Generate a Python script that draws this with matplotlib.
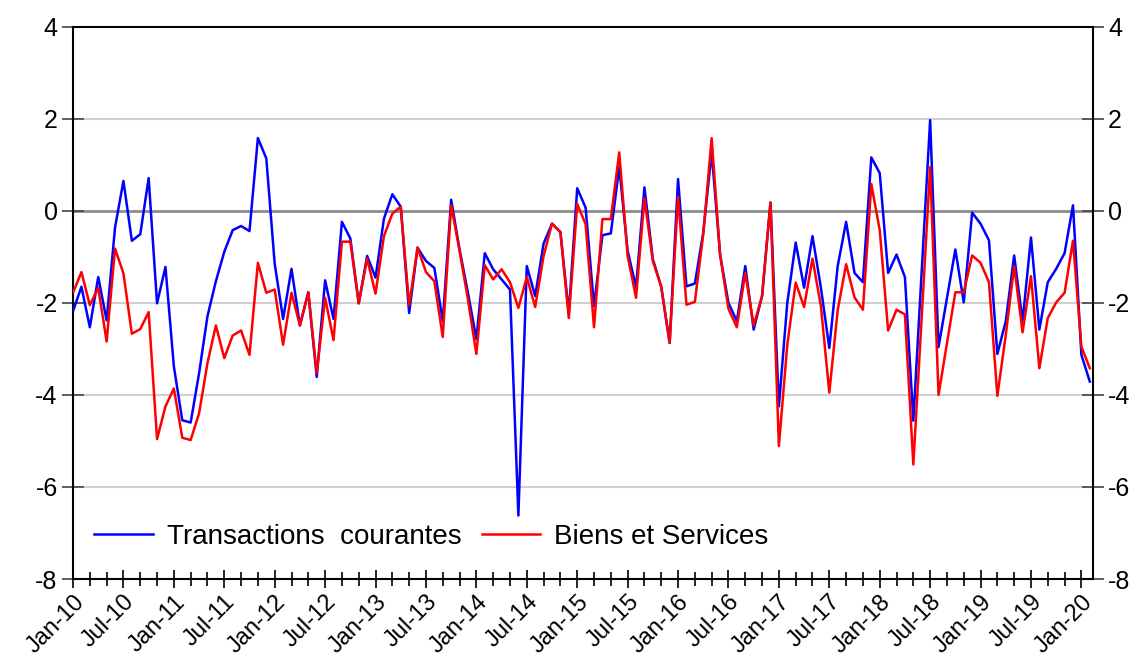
'''
Monthly current account vs goods and services balance, Jan-10 to Feb-20
'''

import pandas as pd
import matplotlib
matplotlib.use('Agg')
import matplotlib.pyplot as plt
from matplotlib.ticker import MultipleLocator, FixedLocator

plt.rcParams['font.family'] = ['Liberation Sans', 'DejaVu Sans']
plt.rcParams['axes.unicode_minus'] = False

months = pd.date_range('2010-01-01', periods=122, freq='MS')

transactions_courantes = [
    -2.18, -1.65, -2.53, -1.44, -2.38, -0.36,  0.65, -0.65, -0.51,  0.71,
    -2.01, -1.22, -3.38, -4.55, -4.60, -3.53, -2.29, -1.53, -0.89, -0.42,
    -0.33, -0.44,  1.58,  1.14, -1.15, -2.35, -1.26, -2.49, -1.77, -3.61,
    -1.51, -2.35, -0.24, -0.60, -2.01, -0.98, -1.45, -0.17,  0.36,  0.09,
    -2.22, -0.80, -1.09, -1.24, -2.40,  0.24, -0.84, -1.78, -2.79, -0.92,
    -1.27, -1.49, -1.71, -6.62, -1.20, -1.85, -0.71, -0.28, -0.46, -2.22,
     0.49,  0.07, -2.07, -0.53, -0.49,  0.95, -0.87, -1.66,  0.51, -1.05,
    -1.65, -2.87,  0.69, -1.64, -1.58, -0.47,  1.27, -0.95, -2.00, -2.40,
    -1.20, -2.58, -1.85,  0.18, -4.25, -2.00, -0.69, -1.67, -0.55, -1.67,
    -2.98, -1.20, -0.24, -1.35, -1.55,  1.16,  0.82, -1.35, -0.95, -1.44,
    -4.56, -1.30,  1.97, -2.96, -1.90, -0.84, -1.99, -0.04, -0.28, -0.64,
    -3.11, -2.40, -0.97, -2.40, -0.58, -2.58, -1.55, -1.26, -0.92,  0.12,
    -3.13, -3.71,
]

biens_et_services = [
    -1.78, -1.33, -2.05, -1.67, -2.84, -0.82, -1.36, -2.67, -2.57, -2.20,
    -4.96, -4.25, -3.86, -4.93, -4.98, -4.40, -3.31, -2.49, -3.20, -2.71,
    -2.60, -3.13, -1.13, -1.78, -1.71, -2.91, -1.78, -2.49, -1.77, -3.53,
    -1.89, -2.81, -0.67, -0.67, -2.01, -1.04, -1.80, -0.55, -0.06,  0.09,
    -2.05, -0.80, -1.33, -1.53, -2.74,  0.12, -0.87, -1.93, -3.11, -1.18,
    -1.49, -1.27, -1.55, -2.11, -1.44, -2.09, -0.98, -0.28, -0.46, -2.33,
     0.15, -0.29, -2.53, -0.18, -0.18,  1.27, -0.98, -1.89,  0.27, -1.09,
    -1.65, -2.87,  0.31, -2.04, -1.98, -0.51,  1.58, -0.95, -2.13, -2.53,
    -1.35, -2.49, -1.85,  0.18, -5.11, -2.91, -1.56, -2.09, -1.04, -2.07,
    -3.95, -2.16, -1.16, -1.88, -2.15,  0.58, -0.42, -2.60, -2.15, -2.25,
    -5.51, -2.30,  0.95, -4.00, -2.88, -1.77, -1.77, -0.97, -1.13, -1.55,
    -4.02, -2.70, -1.20, -2.64, -1.42, -3.42, -2.33, -1.99, -1.78, -0.65,
    -2.95, -3.42,
]

labels = ['Transactions  courantes', 'Biens et Services']
y_ticks = [-8, -6, -4, -2, 0, 2, 4]
#-------------------------------------
def _style_axes(ax):
    x_major = list(range(0, len(months), 6))
    ax.set_xlim(0, 121.35)
    ax.set_ylim(-8, 4)

    ax.xaxis.set_major_locator(FixedLocator(x_major))
    ax.xaxis.set_minor_locator(MultipleLocator(2))
    ax.set_xticklabels([months[i].strftime('%b-%y') for i in x_major],
                       rotation=45, ha='right', rotation_mode='anchor')
    ax.set_yticks(y_ticks)

    ax.tick_params(axis='x', which='major', direction='inout', length=13, width=1.2, labelsize=17, pad=2)
    ax.tick_params(axis='x', which='minor', direction='inout', length=10, width=1.2)
    ax.tick_params(axis='y', direction='inout', length=16, width=1.2, labelsize=18,
                   right=True, labelright=True, color='#444444', pad=3)

    for y in y_ticks[1:-1]:
        if y == 0:
            ax.axhline(y, color='#8c8c8c', lw=2.0, zorder=1)
        else:
            ax.axhline(y, color='#d0d0d0', lw=1.5, zorder=1)

    for spine in ax.spines.values():
        spine.set_linewidth(1.5)
#-------------------------------------
def main():
    fig = plt.figure(figsize=(11.41, 6.60), dpi=100)
    ax  = fig.add_axes([0.064, 0.1227, 0.8937, 0.8368])

    x = list(range(len(months)))
    ax.plot(x, transactions_courantes, color='#0000ff', lw=1.8, label=labels[0], zorder=3)
    ax.plot(x, biens_et_services     , color='#ff0000', lw=1.8, label=labels[1], zorder=4)

    _style_axes(ax)

    ax.legend(loc='center left', bbox_to_anchor=(0.021, 0.076), ncol=2, frameon=False,
              fontsize=20, handlelength=2.1, handletextpad=0.5, columnspacing=0.75,
              borderpad=0, borderaxespad=0)

    fig.savefig('out.png', dpi=100)
    plt.close(fig)
#-------------------------------------
if __name__ == '__main__':
    main()
